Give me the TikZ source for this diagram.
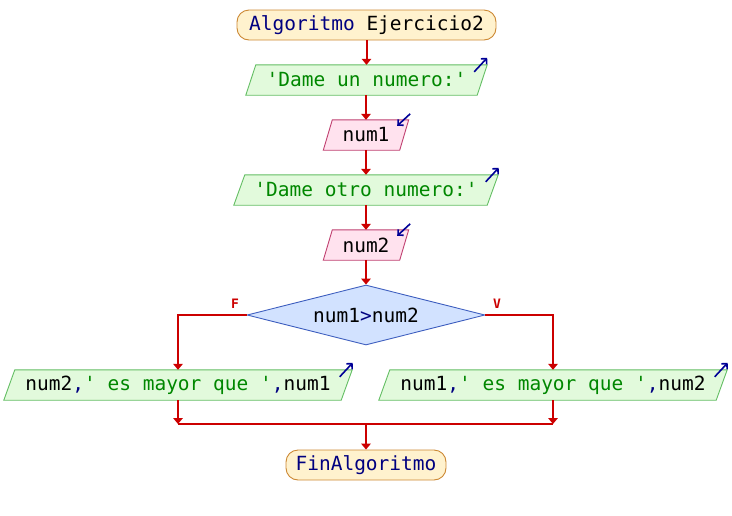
\documentclass[tikz,border=0pt]{standalone}
\usepackage{fontspec}
\setmainfont{DejaVu Sans Mono}
\usetikzlibrary{arrows.meta,calc,backgrounds,shapes.geometric}

\definecolor{kw}{RGB}{0,0,128}
\definecolor{strc}{RGB}{0,135,0}
\definecolor{flowc}{RGB}{204,0,0}
\definecolor{termfill}{RGB}{255,242,206}
\definecolor{termdraw}{RGB}{204,136,51}
\definecolor{outfill}{RGB}{226,250,220}
\definecolor{outdraw}{RGB}{100,190,100}
\definecolor{infill}{RGB}{255,226,238}
\definecolor{indraw}{RGB}{192,64,112}
\definecolor{decfill}{RGB}{210,226,255}
\definecolor{decdraw}{RGB}{64,96,192}
\definecolor{iconc}{RGB}{0,0,150}

% straight single quote
\newcommand\sq{\textquotesingle}

\tikzset{
  txt/.style={font=\fontsize{19.5}{22}\selectfont},
  term/.style={txt, rectangle, rounded corners=12pt, draw=termdraw, fill=termfill,
    line width=0.9pt, minimum height=30pt, inner sep=0pt, text=kw},
  iobox/.style={txt, rectangle, minimum height=30pt, inner sep=0pt},
  outshape/.style={draw=outdraw, fill=outfill, line width=0.9pt},
  inshape/.style={draw=indraw, fill=infill, line width=0.9pt},
  decision/.style={txt, diamond, aspect=4, inner sep=0pt, minimum width=238pt,
    minimum height=60pt, draw=decdraw, fill=decfill, line width=0.9pt},
  flow/.style={draw=flowc, line width=2pt, -{Triangle[length=6pt,width=9.5pt]}},
  flowline/.style={draw=flowc, line width=2pt},
  branch/.style={font=\fontsize{13}{14}\selectfont\bfseries, text=flowc, inner sep=0pt},
  icon/.style={draw=iconc, line width=1.6pt, -{Straight Barb[length=4pt,width=8pt]}}
}

% slanted input/output box drawn behind a named node
\newcommand\slantbox[3]{%
  \path[#3] ($(#1.north west)+(#2,0)$) -- ($(#1.north east)+(#2,0)$)
    -- ($(#1.south east)+(-#2,0)$) -- ($(#1.south west)+(-#2,0)$) -- cycle;}

\begin{document}
\begin{tikzpicture}[x=1pt,y=-1pt]
\useasboundingbox (0,0) rectangle (732,515);

% steps
\node[term, minimum width=259pt] (start) at (366.5,25) {Algoritmo \textcolor{black}{Ejercicio2}};
\node[iobox, minimum width=231pt] (o1) at (366.5,80) {\textcolor{strc}{\sq Dame un numero:\sq}};
\node[iobox, minimum width=76pt] (i1) at (366,135) {num1};
\node[iobox, minimum width=253pt] (o2) at (366,190) {\textcolor{strc}{\sq Dame otro numero:\sq}};
\node[iobox, minimum width=76pt] (i2) at (366,245) {num2};
\node[decision] (d) at (366,315) {num1\textcolor{kw}{>}num2};
\node[iobox, minimum width=337pt] (oL) at (178,385)
  {num2\textcolor{kw}{,}\textcolor{strc}{\sq{} es mayor que \sq}\textcolor{kw}{,}num1};
\node[iobox, minimum width=337pt] (oR) at (553,385)
  {num1\textcolor{kw}{,}\textcolor{strc}{\sq{} es mayor que \sq}\textcolor{kw}{,}num2};
\node[term, minimum width=160pt] (end) at (366,465) {FinAlgoritmo};

% slanted shapes
\begin{scope}[on background layer]
  \slantbox{o1}{5}{outshape}
  \slantbox{i1}{4.5}{inshape}
  \slantbox{o2}{5.5}{outshape}
  \slantbox{i2}{4.5}{inshape}
  \slantbox{oL}{5.5}{outshape}
  \slantbox{oR}{5.5}{outshape}
\end{scope}

% read/write markers
\draw[icon] ($(o1.north east)+(-8,7)$) -- ($(o1.north east)+(5,-7)$);
\draw[icon] ($(o2.north east)+(-7,7)$) -- ($(o2.north east)+(6,-7)$);
\draw[icon] ($(oL.north east)+(-7,7)$) -- ($(oL.north east)+(6,-7)$);
\draw[icon] ($(oR.north east)+(-7,7)$) -- ($(oR.north east)+(6,-7)$);
\draw[icon] ($(i1.north east)+(6,-6)$) -- ($(i1.north east)+(-7,6)$);
\draw[icon] ($(i2.north east)+(6,-6)$) -- ($(i2.north east)+(-7,6)$);

% main flow
\draw[flow] (start.south) -- (start.south |- o1.north);
\draw[flow] (o1.south -| i1.north) -- (i1.north);
\draw[flow] (i1.south) -- (i1.south |- o2.north);
\draw[flow] (o2.south -| i2.north) -- (i2.north);
\draw[flow] (i2.south) -- (i2.south |- d.north);

% branches
\draw[flow] (d.west) -| (oL.north);
\draw[flow] (d.east) -| (oR.north);
\node[branch] (lf) at (235,304) {F};
\node[branch] (lv) at (497,304) {V};

% merge
\coordinate (mL) at (178,424);
\coordinate (mR) at (553,424);
\coordinate (mC) at (366,424);
\draw[flow] (oL.south) -- (mL);
\draw[flow] (oR.south) -- (mR);
\draw[flowline] (mL) -- (mR);
\draw[flow] (mC) -- (end.north);
\end{tikzpicture}
\end{document}
